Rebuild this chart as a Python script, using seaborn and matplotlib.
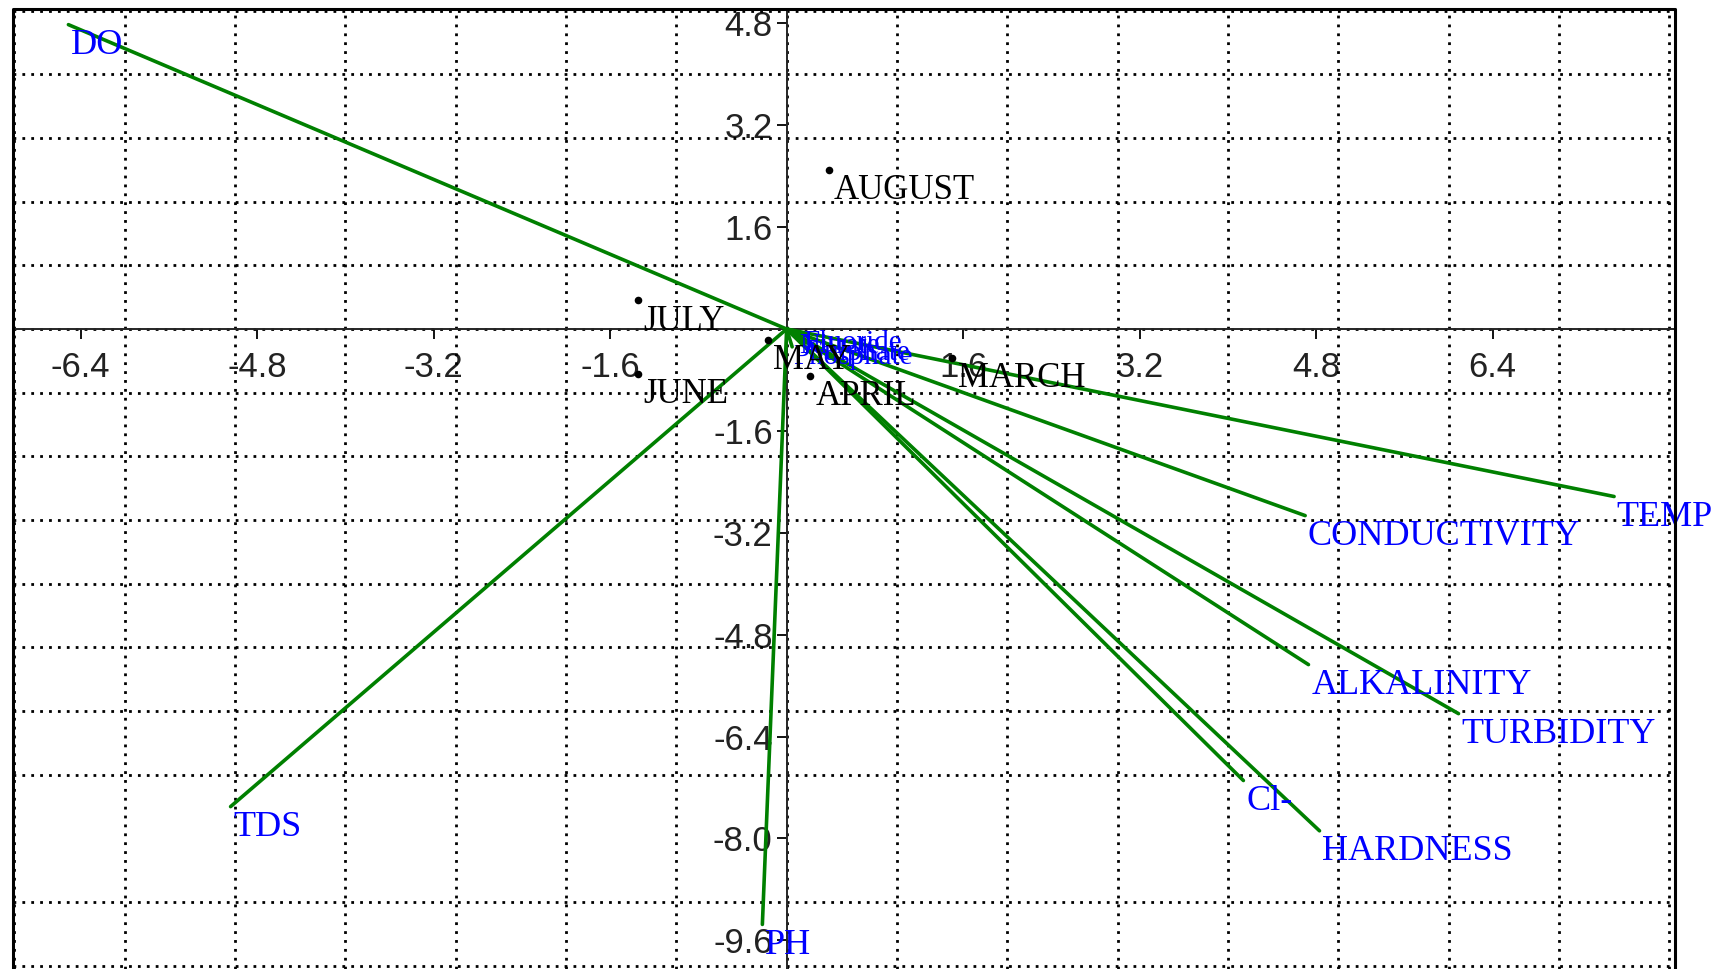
import numpy as np
import pandas as pd
import seaborn as sns
import matplotlib.pyplot as plt

# loadings (arrows from origin)
variables = ['DO', 'TDS', 'PH', 'TEMP', 'CONDUCTIVITY', 'ALKALINITY',
             'TURBIDITY', 'Cl-', 'HARDNESS', 'Nitrate', 'Sulphate', 'Phosphate', 'Fluoride']
load_x = [-6.51, -5.04, -0.22, 7.50, 4.70, 4.73, 6.09, 4.14, 4.83, 0.10, 0.18, 0.05, 0.14]
load_y = [4.78, -7.50, -9.35, -2.63, -2.93, -5.27, -6.04, -7.09, -7.88, -0.10, -0.22, -0.28, -0.06]

# scores (months)
months = ['AUGUST', 'JULY', 'JUNE', 'MAY', 'APRIL', 'MARCH']
score_x = [0.38, -1.35, -1.35, -0.17, 0.21, 1.50]
score_y = [2.50, 0.45, -0.71, -0.17, -0.74, -0.45]

ticks_x = [-6.4, -4.8, -3.2, -1.6, 1.6, 3.2, 4.8, 6.4]
ticks_y = [4.8, 3.2, 1.6, -1.6, -3.2, -4.8, -6.4, -8.0, -9.6]

rows = []
for v, x, y in zip(variables, load_x, load_y):
    rows.append({'var': v, 'x': 0.0, 'y': 0.0})
    rows.append({'var': v, 'x': x, 'y': y})
vec = pd.DataFrame(rows)
pts = pd.DataFrame({'month': months, 'x': score_x, 'y': score_y})

sns.set_style('white')
plt.rcParams['font.family'] = ['Liberation Serif', 'DejaVu Serif']

fig = plt.figure(figsize=(17.2, 9.69), dpi=100)
ax = fig.add_axes([0.0077, 0.0, 0.966, 0.991])

sns.lineplot(data=vec, x='x', y='y', units='var', estimator=None, sort=False,
             color='#008000', linewidth=2.6, ax=ax, zorder=3)
sns.scatterplot(data=pts, x='x', y='y', color='black', s=30, edgecolor='black',
                linewidth=0, ax=ax, zorder=4)

for v, x, y in zip(variables, load_x, load_y):
    small = abs(x) < 0.5 and abs(y) < 0.5
    ax.annotate(v, (x, y), xytext=(2, -3) if not small else (1, 2),
                textcoords='offset points', ha='left', va='top', color='#0000ff',
                fontsize=21 if small else 26, zorder=5)

for m, x, y in zip(months, score_x, score_y):
    ax.annotate(m, (x, y), xytext=(4, -3), textcoords='offset points',
                ha='left', va='top', color='black', fontsize=25, zorder=5)

ax.set_xlim(-7.01, 8.05)
ax.set_ylim(-10.05, 5.03)

# axes through the origin
for s in ['top', 'right']:
    ax.spines[s].set_visible(False)
ax.spines['left'].set_position(('data', 0))
ax.spines['bottom'].set_position(('data', 0))
ax.spines['left'].set_linewidth(1.4)
ax.spines['bottom'].set_linewidth(1.4)
ax.spines['left'].set_zorder(2)
ax.spines['bottom'].set_zorder(2)

ax.set_xticks(ticks_x)
ax.set_yticks(ticks_y)
ax.set_xticklabels([f'{t:.1f}' for t in ticks_x])
ax.set_yticklabels([f'{t:.1f}' for t in ticks_y])
ax.tick_params(axis='x', which='major', pad=9)
ax.tick_params(axis='y', which='major', pad=3)
ax.tick_params(axis='both', which='major', direction='out', length=7, width=1.3,
               color='black', labelsize=25, bottom=True, left=True,
               labelcolor='#222222')
for lab in ax.get_xticklabels() + ax.get_yticklabels():
    lab.set_family(['Liberation Sans', 'DejaVu Sans'])

# dotted grid at whole units
ax.set_xticks(np.arange(-7, 9), minor=True)
ax.set_yticks(np.arange(-10, 6), minor=True)
ax.tick_params(which='minor', length=0)
ax.grid(False, which='major')
ax.grid(True, which='minor', color='black', linestyle=(0, (1, 2.2)), linewidth=2.0)
ax.set_axisbelow(True)

ax.set_xlabel('')
ax.set_ylabel('')

# outer frame
ax.plot([0, 0, 1, 1], [0, 1, 1, 0], transform=ax.transAxes, color='black',
        linewidth=2.2, clip_on=False, zorder=6)

fig.savefig('out.png', dpi=100)
